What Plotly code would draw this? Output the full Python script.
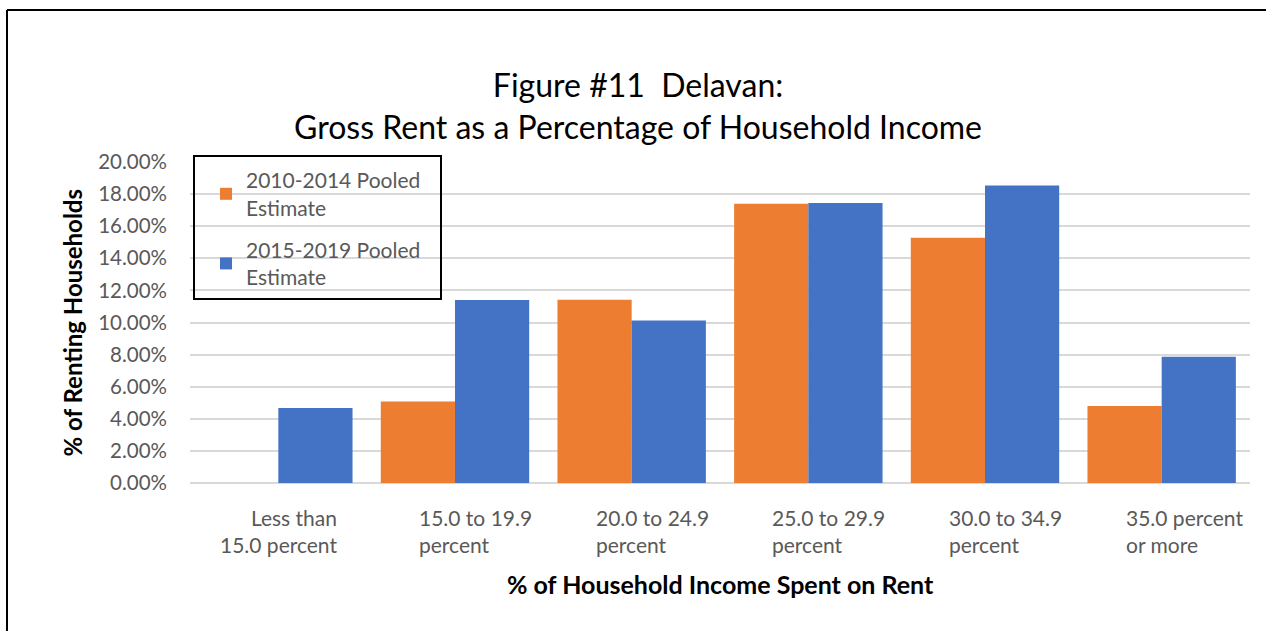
import plotly.graph_objects as go

categories = ["Less than 15.0 percent", "15.0 to 19.9 percent", "20.0 to 24.9 percent",
              "25.0 to 29.9 percent", "30.0 to 34.9 percent", "35.0 percent or more"]
label_line1 = ["Less than", "15.0 to 19.9", "20.0 to 24.9", "25.0 to 29.9", "30.0 to 34.9", "35.0 percent"]
label_line2 = ["15.0 percent", "percent", "percent", "percent", "percent", "or more"]
series_2010_2014 = [0.0, 0.0508, 0.1142, 0.1740, 0.1528, 0.0480]
series_2015_2019 = [0.0467, 0.1140, 0.1013, 0.1745, 0.1854, 0.0787]
series_names = ["2010-2014 Pooled<br>Estimate", "2015-2019 Pooled<br>Estimate"]
y_ticks = [0.0, 0.02, 0.04, 0.06, 0.08, 0.10, 0.12, 0.14, 0.16, 0.18, 0.20]

FONT = "Lato"
GRAY = "#595959"

fig = go.Figure()
fig.add_trace(go.Bar(x=categories, y=series_2010_2014, name=series_names[0],
                     marker=dict(color="#ED7D31", line=dict(width=0)), legendgroup="a"))
fig.add_trace(go.Bar(x=categories, y=series_2015_2019, name=series_names[1],
                     marker=dict(color="#4472C4", line=dict(width=0)), legendgroup="b"))

L, R, T, B = 190, 16, 162, 148
W, H = 1266, 631
pw, ph = W - L - R, H - T - B

annotations = []
for i, cat in enumerate(categories):
    if i == 0:
        annotations.append(dict(x=cat, y=0, xref="x", yref="y", xanchor="center", yanchor="top",
                                yshift=-20, align="right", showarrow=False,
                                text=label_line1[i] + "<br>" + label_line2[i],
                                font=dict(family=FONT, size=21, color=GRAY)))
    else:
        annotations.append(dict(x=cat, y=0, xref="x", yref="y", xanchor="left", yanchor="top",
                                yshift=-20, xshift=-38, align="left", showarrow=False,
                                text=label_line1[i] + "<br>" + label_line2[i],
                                font=dict(family=FONT, size=21, color=GRAY)))

annotations.append(dict(x=0.5, y=0, xref="paper", yref="paper", xanchor="center", yanchor="middle",
                        yshift=-101, showarrow=False,
                        text="<b>% of Household Income Spent on Rent</b>",
                        font=dict(family=FONT, size=25, color="black")))
annotations.append(dict(x=0, y=0.5, xref="paper", yref="paper", xanchor="center", yanchor="middle",
                        xshift=-118, textangle=-90, showarrow=False,
                        text="<b>% of Renting Households</b>",
                        font=dict(family=FONT, size=24, color="black")))

shapes = [
    # legend box
    dict(type="rect", xref="paper", yref="paper",
         x0=(194 - L) / pw, x1=(441 - L) / pw, y0=(H - B - 299) / ph, y1=(H - B - 156) / ph,
         line=dict(color="black", width=2), fillcolor="rgba(0,0,0,0)", layer="above"),
    # outer frame (left and top edges)
    dict(type="line", xref="paper", yref="paper",
         x0=(7 - L) / pw, x1=(7 - L) / pw, y0=-B / ph, y1=(H - B - 10) / ph,
         line=dict(color="black", width=2)),
    dict(type="line", xref="paper", yref="paper",
         x0=(7 - L) / pw, x1=(W - L) / pw, y0=(H - B - 10) / ph, y1=(H - B - 10) / ph,
         line=dict(color="black", width=2)),
]

fig.update_layout(
    width=W, height=H,
    margin=dict(l=L, r=R, t=T, b=B, autoexpand=False),
    paper_bgcolor="white", plot_bgcolor="white",
    barmode="group", bargap=0.16, bargroupgap=0,
    title=dict(text="Figure #11  Delavan:<br>Gross Rent as a Percentage of Household Income",
               x=0.504, xanchor="center", y=1 - 97 / H, yanchor="top", yref="container",
               font=dict(family=FONT, size=32, color="black")),
    xaxis=dict(showticklabels=False, showgrid=False, showline=False, zeroline=False, ticks=""),
    yaxis=dict(range=[0, 0.2], tickvals=y_ticks, tickformat=".2%",
               showgrid=True, gridcolor="#d9d9d9", gridwidth=1.5,
               zeroline=True, zerolinecolor="#d9d9d9", zerolinewidth=1.5,
               showline=False, ticks="", ticklabelstandoff=22,
               tickfont=dict(family=FONT, size=20.5, color=GRAY)),
    legend=dict(x=(206 - L) / pw, y=(H - B - 160) / ph, xanchor="left", yanchor="top",
                bgcolor="rgba(0,0,0,0)", borderwidth=0, tracegroupgap=12,
                font=dict(family=FONT, size=21, color=GRAY)),
    annotations=annotations,
    shapes=shapes,
)

fig.write_html("out.html", config={"displayModeBar": False},
               post_script="document.body.style.margin='0px';document.body.style.overflow='hidden';"
                           "document.documentElement.style.overflow='hidden';")
